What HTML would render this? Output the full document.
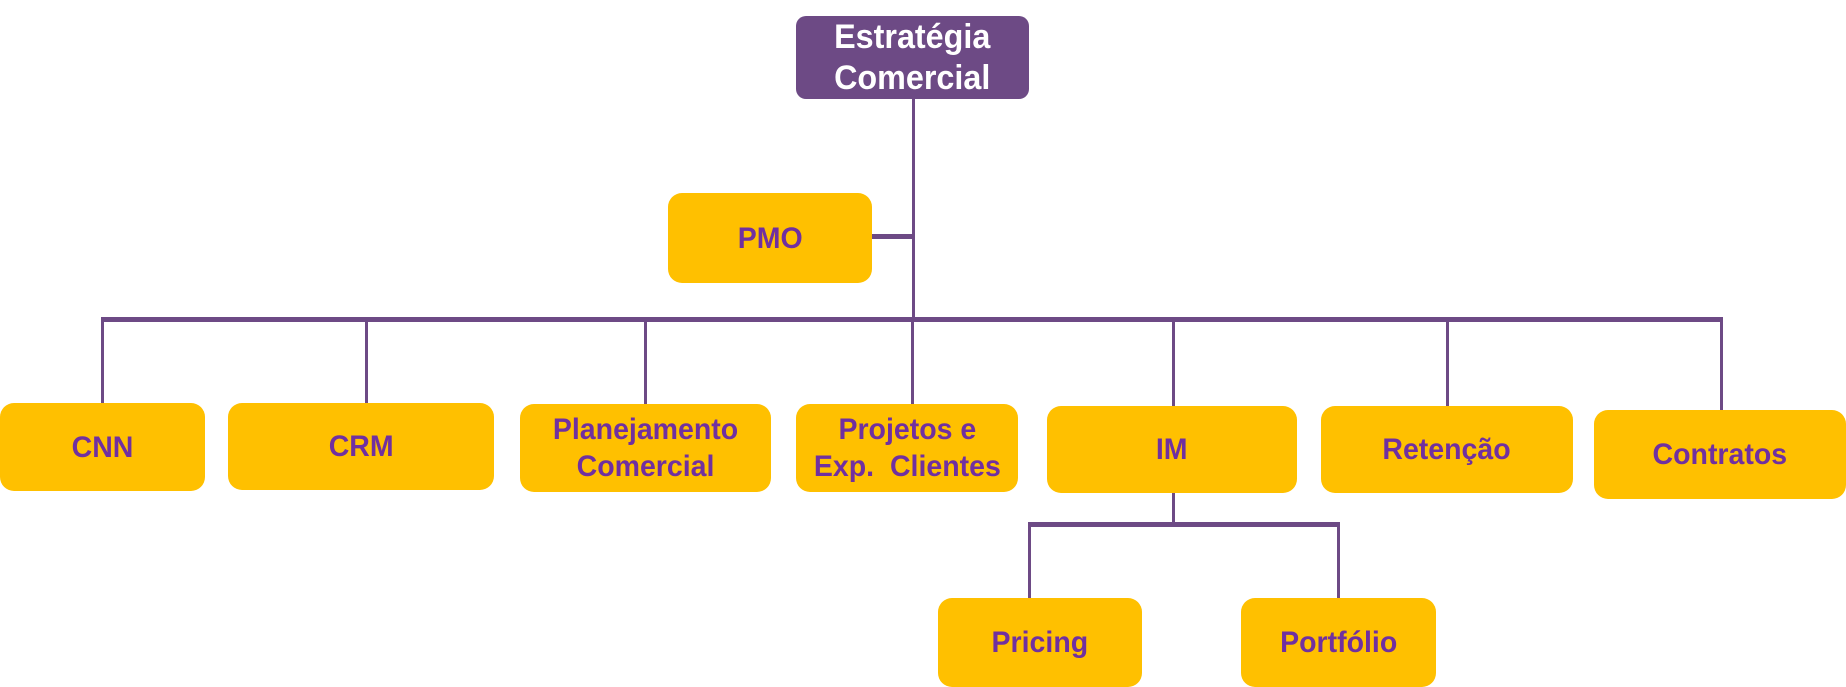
<!DOCTYPE html>
<html><head><meta charset="utf-8"><style>
html,body{margin:0;padding:0;background:#fff;}
body{width:1846px;height:687px;position:relative;overflow:hidden;font-family:"Liberation Sans Narrow","Liberation Sans",sans-serif;}
.b{position:absolute;background:#ffc000;border-radius:14px;display:flex;align-items:center;justify-content:center;text-align:center;color:#7030a0;font-weight:bold;font-size:30px;line-height:37px;}
.b span{display:inline-block;transform:scaleX(0.95);white-space:nowrap;}
.top{background:#6d4a85;color:#fff;border-radius:10px;}
.l{position:absolute;background:#6d4a85;}
</style></head><body>
<div class="l" style="left:912px;top:99px;width:3px;height:222px"></div>
<div class="l" style="left:870px;top:234px;width:44px;height:5px"></div>
<div class="l" style="left:101px;top:317px;width:1622px;height:5px"></div>
<div class="l" style="left:101px;top:319px;width:3px;height:86px"></div>
<div class="l" style="left:365px;top:319px;width:3px;height:86px"></div>
<div class="l" style="left:644px;top:319px;width:3px;height:86px"></div>
<div class="l" style="left:911px;top:319px;width:3px;height:86px"></div>
<div class="l" style="left:1172px;top:319px;width:3px;height:88px"></div>
<div class="l" style="left:1446px;top:319px;width:3px;height:88px"></div>
<div class="l" style="left:1720px;top:319px;width:3px;height:91px"></div>
<div class="l" style="left:1172px;top:492px;width:3px;height:32px"></div>
<div class="l" style="left:1028px;top:522px;width:312px;height:5px"></div>
<div class="l" style="left:1028px;top:524px;width:3px;height:76px"></div>
<div class="l" style="left:1337px;top:524px;width:3px;height:76px"></div>

<div class="b top" style="left:796px;top:16px;width:233px;height:83px;font-size:34px;line-height:41px"><span>Estratégia<br>Comercial</span></div>
<div class="b" style="left:668px;top:193px;width:204px;height:90px"><span>PMO</span></div>
<div class="b" style="left:0px;top:403px;width:205px;height:88px"><span>CNN</span></div>
<div class="b" style="left:228px;top:403px;width:266px;height:87px"><span>CRM</span></div>
<div class="b" style="left:520px;top:404px;width:251px;height:88px"><span>Planejamento<br>Comercial</span></div>
<div class="b" style="left:796px;top:404px;width:222px;height:88px"><span>Projetos e<br>Exp.&nbsp; Clientes</span></div>
<div class="b" style="left:1047px;top:406px;width:250px;height:87px"><span>IM</span></div>
<div class="b" style="left:1321px;top:406px;width:252px;height:87px"><span>Retenção</span></div>
<div class="b" style="left:1594px;top:410px;width:252px;height:89px"><span>Contratos</span></div>
<div class="b" style="left:938px;top:598px;width:204px;height:89px"><span>Pricing</span></div>
<div class="b" style="left:1241px;top:598px;width:195px;height:89px"><span>Portfólio</span></div>
</body></html>
